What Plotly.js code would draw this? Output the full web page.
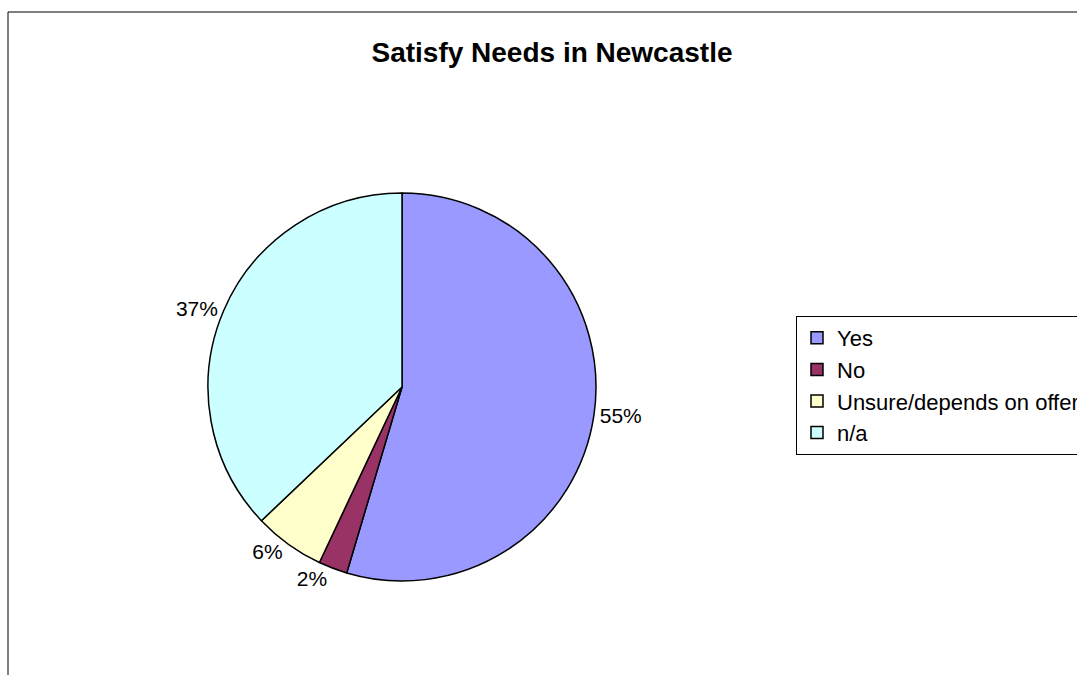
<!DOCTYPE html>
<html>
<head>
<meta charset="utf-8">
<script src="https://cdn.plot.ly/plotly-3.0.1.min.js"></script>
<style>html,body{margin:0;padding:0;background:#fff;overflow:hidden;}#chart{width:1140px;height:675px;}</style>
</head>
<body>
<div id="chart"></div>
<script>
const categories = ["Yes", "No", "Unsure/depends on offer", "n/a"];
const values = [54.6, 2.4, 5.9, 37.1];
const colors = ["#9999FF", "#993366", "#FFFFCC", "#CCFFFF"];
const chartTitle = "Satisfy Needs in Newcastle";

const W = 1140, H = 675;
const cx = 402, cy = 387, r = 194;

const trace = {
  type: "pie",
  labels: categories,
  values: values,
  sort: false,
  direction: "clockwise",
  rotation: 0,
  marker: {colors: colors, line: {color: "#000000", width: 1.5}},
  textposition: "outside",
  texttemplate: "%{percent:.0%}",
  textfont: {family: "Liberation Sans, Arial, sans-serif", size: 21, color: "#000"},
  hoverinfo: "label+percent",
  domain: {x: [(cx - r) / W, (cx + r) / W], y: [(H - cy - r) / H, (H - cy + r) / H]}
};

const layout = {
  width: W, height: H,
  margin: {l: 0, r: 0, t: 0, b: 0},
  paper_bgcolor: "#fff",
  font: {family: "Liberation Sans, Arial, sans-serif", color: "#000"},
  title: {
    text: "<b>" + chartTitle + "</b>",
    font: {family: "Liberation Sans, Arial, sans-serif", size: 28, color: "#000"},
    x: 552 / W, xanchor: "center", y: 1 - 52 / H, yanchor: "middle"
  },
  showlegend: true,
  legend: {
    x: 796 / W, xanchor: "left", y: 1 - 316 / H, yanchor: "top",
    bordercolor: "#000", borderwidth: 1, bgcolor: "#fff",
    font: {family: "Liberation Sans, Arial, sans-serif", size: 22, color: "#000"},
    traceorder: "normal"
  },
  shapes: [{
    type: "rect", xref: "paper", yref: "paper",
    x0: 8 / W, x1: 1.05, y0: -0.05, y1: 1 - 12 / H,
    line: {color: "#000", width: 1}
  }]
};

Plotly.newPlot("chart", [trace], layout, {displayModeBar: false, staticPlot: true});
</script>
</body>
</html>
